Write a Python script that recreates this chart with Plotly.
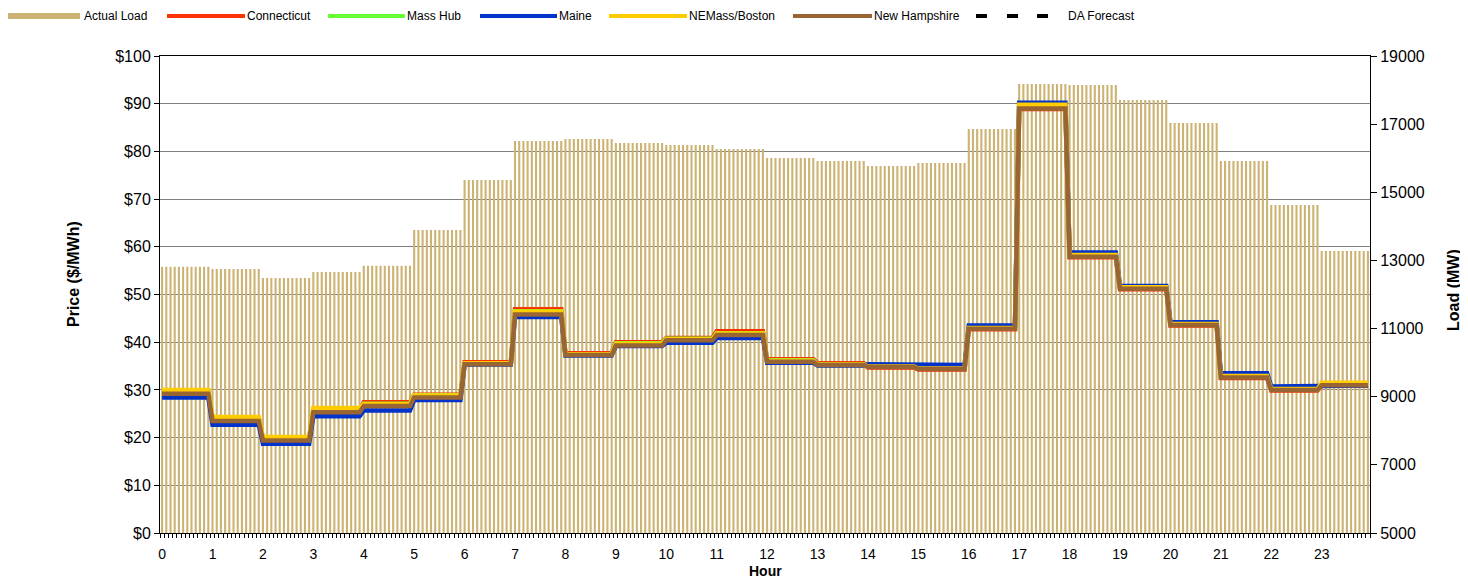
import numpy as np
import plotly.graph_objects as go

# ---------------- data ----------------
hour_labels = [str(h) for h in range(24)]
intervals_per_hour = 12

actual_load = [12816, 12748, 12484, 12660, 12845, 13893, 15361, 16505, 16564, 16447,
               16388, 16270, 16006, 15918, 15771, 15859, 16857, 18178, 18149, 17709,
               17034, 15918, 14627, 13277]

connecticut = [29.6, 23.9, 19.8, 25.7, 27.4, 29.0, 35.8, 46.9, 37.7, 40.0,
               40.9, 42.3, 36.4, 35.6, 34.7, 34.3, 42.7, 88.9, 57.8, 51.1,
               43.5, 32.5, 29.9, 30.9]
mass_hub = [29.8, 24.1, 19.9, 25.9, 27.1, 28.9, 35.6, 46.5, 37.5, 39.8,
            40.7, 41.9, 36.2, 35.3, 34.9, 34.5, 42.9, 89.3, 58.1, 51.3,
            43.7, 32.8, 30.1, 31.3]
maine = [28.4, 22.7, 18.7, 24.5, 25.7, 27.9, 35.3, 45.3, 37.2, 39.2,
         39.9, 40.9, 35.7, 35.1, 35.4, 35.2, 43.5, 90.2, 58.8, 51.8,
         44.2, 33.5, 30.7, 30.9]
nemass_boston = [30.0, 24.3, 20.1, 26.2, 27.0, 28.8, 35.6, 46.4, 37.5, 39.7,
                 40.6, 41.8, 36.1, 35.3, 34.9, 34.5, 43.0, 89.8, 58.3, 51.5,
                 43.8, 32.9, 30.2, 31.5]
new_hampshire = [29.2, 23.5, 19.4, 25.3, 26.6, 28.4, 35.4, 45.8, 37.3, 39.3,
                 40.4, 41.5, 35.9, 35.2, 34.8, 34.4, 42.8, 89.0, 57.9, 51.2,
                 43.6, 32.6, 30.0, 31.0]

price_ticks = [0, 10, 20, 30, 40, 50, 60, 70, 80, 90, 100]
price_tick_labels = ["$" + str(v) for v in price_ticks]
load_ticks = [5000, 7000, 9000, 11000, 13000, 15000, 17000, 19000]
load_tick_labels = [str(v) for v in load_ticks]

# ---------------- styling ----------------
FONT = "Liberation Sans, Arial, sans-serif"
LOAD_COLOR = "#CCB373"
series = [
    ("Connecticut", connecticut, "#FF3300"),
    ("Mass Hub", mass_hub, "#66FF33"),
    ("Maine", maine, "#0033CC"),
    ("NEMass/Boston", nemass_boston, "#FFCC00"),
    ("New Hampshire", new_hampshire, "#996633"),
]

n = len(hour_labels) * intervals_per_hour
x = np.arange(n)


def expand(vals):
    return np.repeat(np.asarray(vals, dtype=float), intervals_per_hour)


fig = go.Figure()
fig.add_trace(go.Bar(x=x, y=expand(actual_load), yaxis="y", name="Actual Load",
                     marker=dict(color=LOAD_COLOR, line=dict(width=0)),
                     showlegend=False))
for name, vals, color in series:
    fig.add_trace(go.Scatter(x=x, y=expand(vals), yaxis="y2", mode="lines", name=name,
                             line=dict(color=color, width=4.5), showlegend=False))
fig.add_trace(go.Scatter(x=[None], y=[None], yaxis="y2", mode="lines", name="DA Forecast",
                         line=dict(color="black", width=4, dash="dash"), showlegend=False))

# page offset (browser body margin) and plot area in window pixels
OFF = 8
WIN_W, WIN_H = 1468, 581
L, R, T, B = 160, 1370, 56, 533
W, H = WIN_W - OFF, WIN_H - OFF


def px(xp):
    return (xp - L) / (R - L)


def py(yp):
    return (B - yp) / (B - T)


shapes = []
annotations = []
leg_y = 16
shapes.append(dict(type="rect", xref="paper", yref="paper", x0=px(7), x1=px(80),
                   y0=py(leg_y + 3), y1=py(leg_y - 3), fillcolor=LOAD_COLOR,
                   line=dict(width=0)))
annotations.append(dict(text="Actual Load", x=px(82), y=py(leg_y), xref="paper", yref="paper",
                        xanchor="left", yanchor="middle", showarrow=False,
                        font=dict(size=12, color="black", family=FONT)))
leg_pos = [(167, 245), (328, 405), (480, 557), (609, 687), (793, 872)]
for (name, _, color), (x0, x1) in zip(series, leg_pos):
    shapes.append(dict(type="line", xref="paper", yref="paper", x0=px(x0), x1=px(x1),
                       y0=py(leg_y), y1=py(leg_y), line=dict(color=color, width=4)))
    annotations.append(dict(text=name, x=px(x1), y=py(leg_y), xref="paper", yref="paper",
                            xanchor="left", yanchor="middle", showarrow=False,
                            font=dict(size=12, color="black", family=FONT)))
for x0 in (976, 1007, 1037):
    shapes.append(dict(type="line", xref="paper", yref="paper", x0=px(x0), x1=px(x0 + 11),
                       y0=py(leg_y), y1=py(leg_y), line=dict(color="black", width=4)))
annotations.append(dict(text="DA Forecast", x=px(1066), y=py(leg_y), xref="paper", yref="paper",
                        xanchor="left", yanchor="middle", showarrow=False,
                        font=dict(size=12, color="black", family=FONT)))

annotations.append(dict(text="<b>Price ($/MWh)</b>", x=px(73), y=py(274), xref="paper", yref="paper",
                        textangle=-90, showarrow=False, xanchor="center", yanchor="middle",
                        font=dict(size=16, color="black", family=FONT)))
annotations.append(dict(text="<b>Load (MW)</b>", x=px(1453), y=py(290), xref="paper", yref="paper",
                        textangle=-90, showarrow=False, xanchor="center", yanchor="middle",
                        font=dict(size=16, color="black", family=FONT)))
annotations.append(dict(text="<b>Hour</b>", x=px(765), y=py(571), xref="paper", yref="paper",
                        showarrow=False, xanchor="center", yanchor="middle",
                        font=dict(size=14, color="black", family=FONT)))

fig.update_layout(
    width=W, height=H,
    margin=dict(l=L - OFF, r=WIN_W - R, t=T - OFF, b=WIN_H - B, autoexpand=False),
    paper_bgcolor="white", plot_bgcolor="white",
    font=dict(family=FONT, color="black"),
    bargap=0.5,
    showlegend=False,
    shapes=shapes,
    annotations=annotations,
    xaxis=dict(
        range=[-0.5, n - 0.5],
        tickmode="array",
        tickvals=[h * intervals_per_hour for h in range(len(hour_labels))],
        ticktext=hour_labels,
        ticks="",
        ticklabelstandoff=8,
        tickfont=dict(size=14, family=FONT, color="black"),
        showgrid=False, zeroline=False,
        showline=True, linecolor="black", linewidth=1, mirror=True,
        minor=dict(ticks="outside", ticklen=4, tickcolor="black", tickwidth=1,
                   tickmode="linear", tick0=-0.5, dtick=1, showgrid=False),
    ),
    yaxis=dict(
        side="right",
        range=[load_ticks[0], load_ticks[-1]],
        tickmode="array", tickvals=load_ticks, ticktext=load_tick_labels,
        ticks="outside", ticklen=6, tickcolor="black",
        tickfont=dict(size=16, family=FONT, color="black"),
        showgrid=False, zeroline=False,
        showline=True, linecolor="black", linewidth=1,
    ),
    yaxis2=dict(
        overlaying="y", side="left", anchor="x",
        range=[price_ticks[0], price_ticks[-1]],
        tickmode="array", tickvals=price_ticks, ticktext=price_tick_labels,
        ticks="outside", ticklen=5, tickcolor="black",
        tickfont=dict(size=16, family=FONT, color="black"),
        showgrid=True, gridcolor="#808080", gridwidth=1, zeroline=False,
        showline=True, linecolor="black", linewidth=1,
    ),
)

fig.write_html("out.html")
